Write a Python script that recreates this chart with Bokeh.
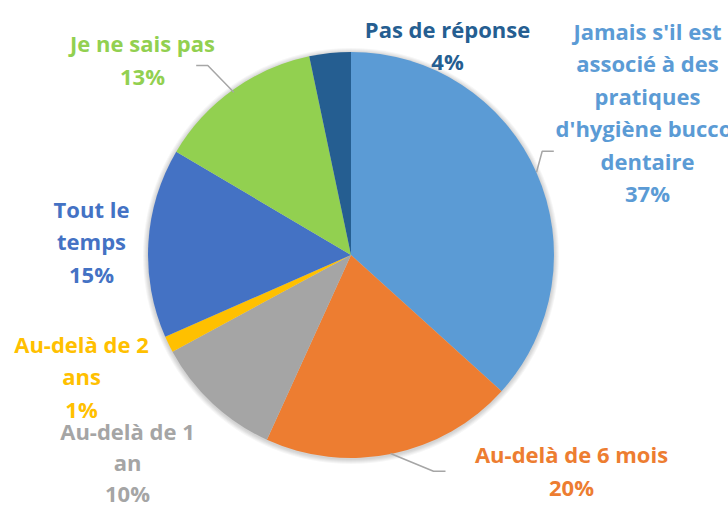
import math
from bokeh.plotting import figure
from bokeh.models import Range1d, ColumnDataSource
from bokeh.core.properties import value
from bokeh.embed import file_html
from bokeh.resources import INLINE

# ---- data (clockwise from 12 o'clock) ----
categories = [
    "Jamais s'il est associé à des pratiques d'hygiène bucco-dentaire",
    "Au-delà de 6 mois",
    "Au-delà de 1 an",
    "Au-delà de 2 ans",
    "Tout le temps",
    "Je ne sais pas",
    "Pas de réponse",
]
shares = [36.7, 20.1, 10.3, 1.3, 15.1, 13.2, 3.3]
pct_labels = ["37%", "20%", "10%", "1%", "15%", "13%", "4%"]
colors = ["#5B9BD5", "#ED7D31", "#A5A5A5", "#FFC000", "#4472C4", "#92D050", "#255E91"]

# ---- layout ----
W, H = 728, 506
def Y(py):
    return H - py

CX, CY, R = 350.5, Y(254.5), 203

wrapped = [
    "Jamais s'il est\nassocié à des\npratiques\nd'hygiène bucco-\ndentaire",
    "Au-delà de 6 mois",
    "Au-delà de 1\nan",
    "Au-delà de 2\nans",
    "Tout le\ntemps",
    "Je ne sais pas",
    "Pas de réponse",
]
# label block anchor: (center x, first line y) in page px, line spacing
label_pos = [(647, 30), (571, 453), (127, 430), (81, 343), (91, 208), (142, 42), (447, 28)]
line_gap = [32.5, 33, 31.0, 32.5, 32.5, 33, 32]

p = figure(width=W, height=H, output_backend="svg", toolbar_location=None,
           x_range=Range1d(0, W), y_range=Range1d(0, H),
           min_border=0, background_fill_color="white", border_fill_color="white")
p.axis.visible = False
p.grid.visible = False
p.outline_line_color = None

# soft shadow
for k in range(1, 6):
    p.circle(x=[CX], y=[CY - 1], radius=R + k, radius_units="screen",
             fill_color="#000000", fill_alpha=0.035, line_color=None)

total = sum(shares)
starts, ends = [], []
acc = 0.0
for s in shares:
    starts.append(math.pi / 2 - 2 * math.pi * acc / total)
    acc += s
    ends.append(math.pi / 2 - 2 * math.pi * acc / total)

src = ColumnDataSource(dict(start=starts, end=ends, color=colors, cat=categories))
p.wedge(x=CX, y=CY, radius=R, radius_units="screen", start_angle="start", end_angle="end",
        direction="clock", fill_color="color", line_color=None, source=src)

# leader lines
leaders = [
    ([553.3, 541.7, 536.0], [150.7, 150.7, 171.7]),
    ([445.0, 433.0, 390.0], [470.7, 470.7, 453.0]),
    ([195.7, 207.3, 233.3], [65.0, 65.0, 91.7]),
]
for xs, ys in leaders:
    p.line(xs, [Y(v) for v in ys], line_color="#A6A6A6", line_width=1.5)

# labels
tx, ty, tt, tc = [], [], [], []
for i, name in enumerate(wrapped):
    lines = name.split("\n") + [pct_labels[i]]
    x0, y0 = label_pos[i]
    for j, ln in enumerate(lines):
        tx.append(x0)
        ty.append(Y(y0 + j * line_gap[i]))
        tt.append(ln)
        tc.append(colors[i])
lsrc = ColumnDataSource(dict(x=tx, y=ty, text=tt, color=tc))
p.text(x="x", y="y", text="text", text_color="color", source=lsrc,
       text_font=value("Open Sans"), text_font_style="bold", text_font_size="22px",
       text_align="center", text_baseline="middle")

open("out.html", "w").write(file_html(p, INLINE))
